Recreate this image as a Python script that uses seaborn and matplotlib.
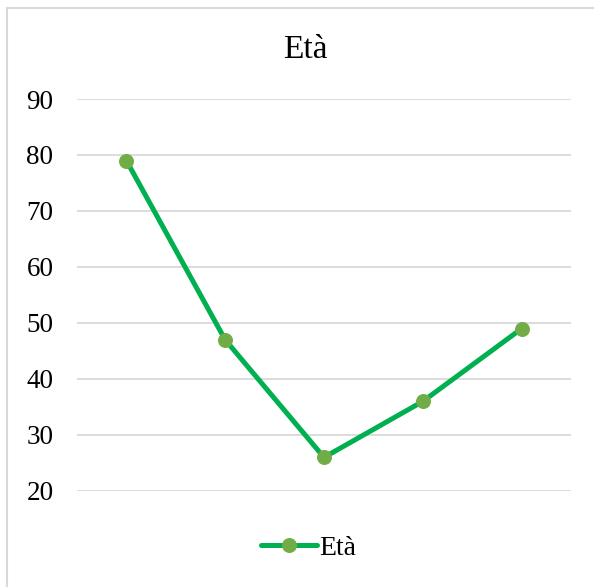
import matplotlib
matplotlib.use("Agg")
import matplotlib.pyplot as plt
import matplotlib.patches as mpatches
import seaborn as sns
import pandas as pd

categories = [1, 2, 3, 4, 5]
eta = [79, 47, 26, 36, 49]
yticks = [20, 30, 40, 50, 60, 70, 80, 90]
series_name = "Età"

sns.set_theme(style="white")
plt.rcParams["font.family"] = ["Liberation Serif", "DejaVu Serif"]
plt.rcParams["text.color"] = "black"
plt.rcParams["ytick.color"] = "black"

df = pd.DataFrame({"pos": range(len(categories)), "val": eta, "serie": series_name})

fig = plt.figure(figsize=(5.94, 5.87), dpi=100)
fig.patch.set_facecolor("white")

# chart frame
frame = mpatches.Rectangle((7 / 594, -0.05), 1.2, 1 - 8 / 587 + 0.05,
                           transform=fig.transFigure, fill=False,
                           edgecolor="#d9d9d9", linewidth=1.5, zorder=0)
fig.patches.append(frame)

ax = fig.add_axes([77 / 594, 1 - 491 / 587, (571 - 77) / 594, (491 - 99) / 587])
sns.lineplot(data=df, x="pos", y="val", hue="serie", palette=["#00B050"],
             ax=ax, linewidth=3.6, marker="o", markersize=10,
             markerfacecolor="#70AD47", markeredgecolor="#70AD47", zorder=3)

ax.set_xlim(-0.5, len(categories) - 0.5)
ax.set_ylim(20, 90)
ax.set_yticks(yticks)
ax.set_yticklabels([str(t) for t in yticks], fontsize=19.5, color="black")
ax.set_xticks([])
ax.set_xlabel("")
ax.set_ylabel("")
ax.tick_params(axis="y", length=0, pad=17)
for s in ax.spines.values():
    s.set_visible(False)
ax.grid(axis="y", color="#d9d9d9", linewidth=1.3)
ax.set_axisbelow(True)

fig.text(305 / 594, 1 - 50 / 587, "Età", ha="center", va="center",
         fontsize=24, color="black")

handles, labels = ax.get_legend_handles_labels()
leg = ax.legend(handles, labels, loc="center", bbox_to_anchor=(309 / 594, 1 - 548 / 587),
                bbox_transform=fig.transFigure, frameon=False, fontsize=20,
                handlelength=2.0, handletextpad=0.1, borderaxespad=0)
for t in leg.get_texts():
    t.set_color("black")

fig.savefig("out.png", dpi=100, facecolor="white")
